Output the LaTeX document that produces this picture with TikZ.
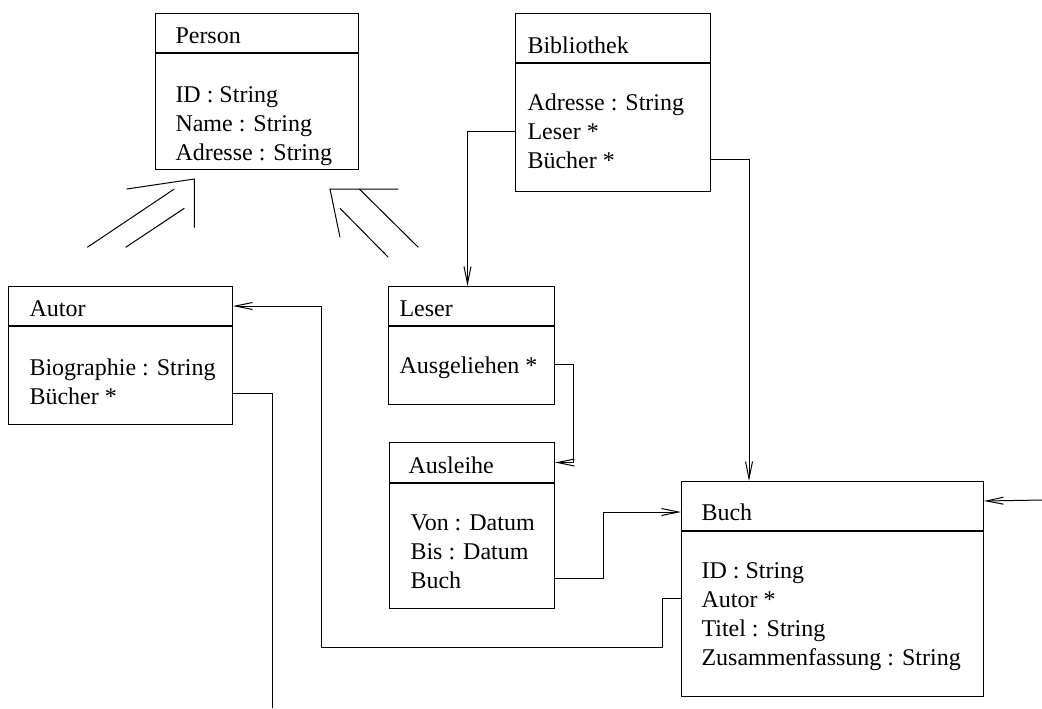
\documentclass[tikz,border=0pt]{standalone}
\usepackage{fontspec}
\setmainfont{Liberation Serif}
\usepackage{tikz}
\usetikzlibrary{arrows.meta, positioning}

\begin{document}
\begin{tikzpicture}[x=0.5pt, y=-0.5pt, line width=0.5pt,
        every node/.style={font=\fontsize{12}{14.5}\selectfont},
        classhead/.style={draw, anchor=north west, inner sep=0pt},
        classbody/.style={draw, inner sep=0pt},
        classtext/.style={anchor=base west, inner sep=0pt, align=left},
        assoc/.style={-{Straight Barb[length=8.5pt,width=3.5pt]}}]
            \useasboundingbox (0,0) rectangle (1042,708);
            % Define nodes for classes
            \node[classhead, minimum width=101.5pt, minimum height=19.5pt] (person-head) at (155,13) {};
            \node[classbody, minimum width=101.5pt, minimum height=58pt, below=0pt of person-head] (person-body) {};
            \node[classhead, minimum width=97.5pt, minimum height=24.5pt] (bibliothek-head) at (515,13) {};
            \node[classbody, minimum width=97.5pt, minimum height=64pt, below=0pt of bibliothek-head] (bibliothek-body) {};
            \node[classhead, minimum width=112pt, minimum height=19.5pt] (autor-head) at (8,286) {};
            \node[classbody, minimum width=112pt, minimum height=49pt, below=0pt of autor-head] (autor-body) {};
            \node[classhead, minimum width=83pt, minimum height=19.5pt] (leser-head) at (388,286) {};
            \node[classbody, minimum width=83pt, minimum height=39pt, below=0pt of leser-head] (leser-body) {};
            \node[classhead, minimum width=82.5pt, minimum height=20pt] (ausleihe-head) at (389,442) {};
            \node[classbody, minimum width=82.5pt, minimum height=62.5pt, below=0pt of ausleihe-head] (ausleihe-body) {};
            \node[classhead, minimum width=151pt, minimum height=24.5pt] (buch-head) at (681,481) {};
            \node[classbody, minimum width=151pt, minimum height=82.5pt, below=0pt of buch-head] (buch-body) {};
            % Class names and attributes (base = last line)
            \node[classtext] (person-name) at (175,43.3) {Person};
            \node[classtext] (person-attrs) at (175,160) {ID : String\\Name : String\\Adresse : String};
            \node[classtext] (bibliothek-name) at (527,53.3) {Bibliothek};
            \node[classtext] (bibliothek-attrs) at (527,168) {Adresse : String\\Leser *\\Bücher *};
            \node[classtext] (autor-name) at (29,316.7) {Autor};
            \node[classtext] (autor-attrs) at (29,404) {Biographie : String\\Bücher *};
            \node[classtext] (leser-name) at (399,316.7) {Leser};
            \node[classtext] (leser-attrs) at (399,373.3) {Ausgeliehen *};
            \node[classtext] (ausleihe-name) at (408,473.3) {Ausleihe};
            \node[classtext] (ausleihe-attrs) at (410,588) {Von : Datum\\Bis : Datum\\Buch};
            \node[classtext] (buch-name) at (701,520.7) {Buch};
            \node[classtext] (buch-attrs) at (701,665) {ID : String\\Autor *\\Titel : String\\Zusammenfassung : String};
            % Ends of the associations
            \coordinate (bibliothek-leser) at (515,131);
            \coordinate (bibliothek-buecher) at (710,159.5);
            \coordinate (leser-ausgeliehen) at (554,364);
            \coordinate (ausleihe-buch) at (554,578);
            \coordinate (buch-autor) at (681,598);
            \coordinate (autor-buecher) at (232,393);
            \coordinate (autor-out) at (272,708);
            \coordinate (buch-in) at (1042,500);
            % Associations
            \draw[assoc] (bibliothek-leser) -| ([xshift=-2pt]leser-head.north);
            \draw[assoc] (bibliothek-buecher) -| ([xshift=34pt]buch-head.north west);
            \draw[assoc] (leser-ausgeliehen) -- ++(9.5pt,0) |- (ausleihe-head.east);
            \draw[assoc] (ausleihe-buch) -- ++(24.5pt,0) |- ([yshift=-3pt]buch-head.west);
            \draw[assoc] (buch-autor) -- ++(-9.5pt,0) -- ++(0,-24.5pt) -| ([xshift=44pt]autor-head.east) -- (autor-head.east);
            \draw (autor-buecher) -| (autor-out);
            \draw[assoc] (buch-in) -- ([yshift=2.5pt]buch-head.east);
            % Inheritance (Autor, Leser to Person)
            \draw (126.7,189) -- (194.3,179) -- (194.3,227.7);
            \draw (87.3,247.3) -- (174.3,189);
            \draw (125.7,247.3) -- (184.3,208.3);
            \draw (398.3,189) -- (330,189) -- (340,237.3);
            \draw (359.3,189) -- (418.3,247.3);
            \draw (340,208.3) -- (388.3,257.3);
        \end{tikzpicture}
\end{document}
